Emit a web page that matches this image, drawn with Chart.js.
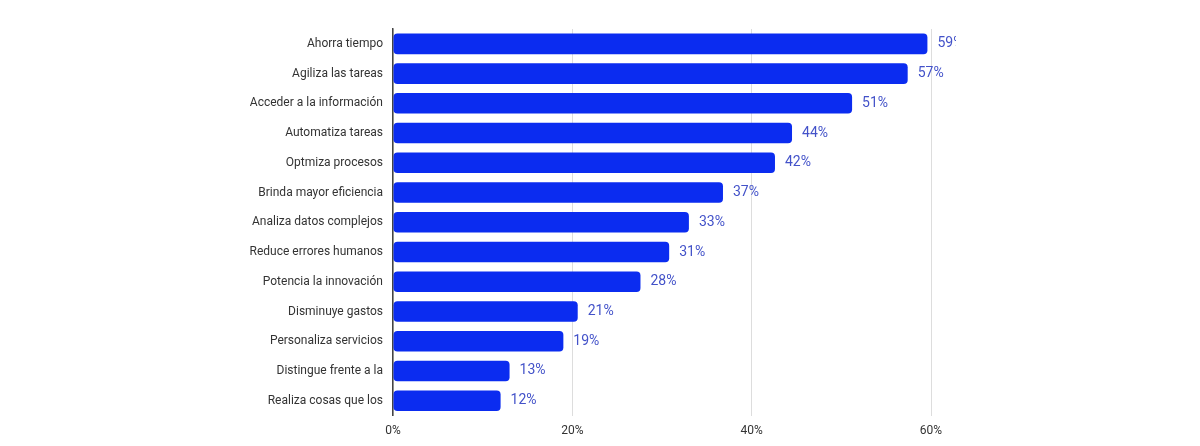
<!DOCTYPE html>
<html><head><meta charset="utf-8">
<script src="https://cdn.jsdelivr.net/npm/chart.js@4"></script>
<style>html,body{margin:0;background:#fff}#w{position:absolute;left:0;top:0;width:956px;height:446px;overflow:hidden}</style>
</head><body><div id="w"><canvas id="c" width="956" height="446"></canvas></div>
<script>
const categories=["Ahorra tiempo","Agiliza las tareas","Acceder a la información","Automatiza tareas","Optmiza procesos","Brinda mayor eficiencia","Analiza datos complejos","Reduce errores humanos","Potencia la innovación","Disminuye gastos","Personaliza servicios","Distingue frente a la","Realiza cosas que los"];
const values=[59.6,57.4,51.2,44.5,42.6,36.8,33,30.8,27.6,20.6,19,13,12];
const labels=["59%","57%","51%","44%","42%","37%","33%","31%","28%","21%","19%","13%","12%"];
const xTicks=["0%","20%","40%","60%"];
const lbl={id:'lbl',afterDatasetsDraw(ch){const c=ch.ctx;const m=ch.getDatasetMeta(0);c.save();c.font='14px Roboto';c.fillStyle='#4352c9';c.textBaseline='middle';m.data.forEach((b,i)=>{c.fillText(labels[i],b.x+10,b.y);});c.restore();}};
new Chart(document.getElementById('c'),{type:'bar',data:{labels:categories,datasets:[{data:values,backgroundColor:'#0b2cf0',borderRadius:4,borderSkipped:false,barPercentage:0.72,categoryPercentage:0.96}]},
options:{indexAxis:'y',responsive:false,animation:false,layout:{padding:{top:29,right:25,bottom:0,left:0}},
plugins:{legend:{display:false},tooltip:{enabled:false}},
scales:{x:{min:0,max:60,ticks:{stepSize:20,color:'#333',font:{family:'Roboto',size:12},padding:8,callback:(v,i)=>xTicks[i]},grid:{color:'#dddddd',drawTicks:false},border:{display:false}},
y:{afterFit(s){s.width=393;},ticks:{color:'#333',font:{family:'Roboto',size:12},padding:10},grid:{display:false,drawTicks:false},border:{color:'#444',width:1.5}}}},
plugins:[lbl]});
</script></body></html>
